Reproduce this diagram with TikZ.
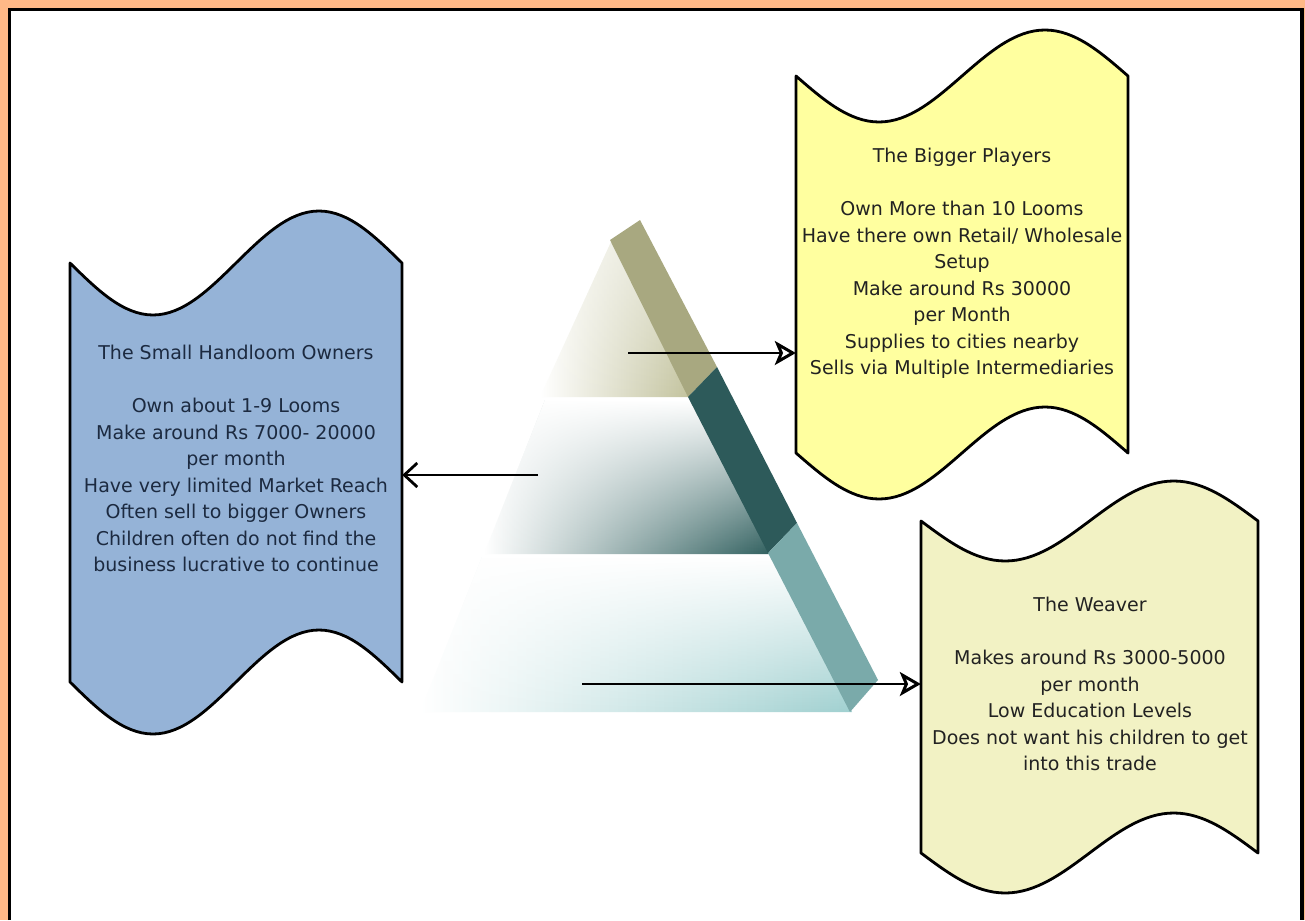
\documentclass[tikz,border=0pt]{standalone}
\usepackage{fontspec}
\setmainfont{DejaVu Sans}
\usetikzlibrary{arrows.meta,fadings}
\definecolor{orangebg}{HTML}{FFB987}
\definecolor{bluebox}{HTML}{95B3D7}
\definecolor{yellowbox}{HTML}{FFFF9F}
\definecolor{weaverbox}{HTML}{F2F2C4}
\definecolor{olive}{HTML}{A8A880}
\definecolor{tealdark}{HTML}{2D5A5A}
\definecolor{teallight}{HTML}{7AAAAA}
\definecolor{tierone}{HTML}{C2C29C}
\definecolor{tiertwo}{HTML}{31605F}
\definecolor{tierthree}{HTML}{A0D0D0}
\definecolor{txt}{HTML}{222222}
\definecolor{bluetxt}{HTML}{1C2A40}
\newcommand\wavyshape[6]{%
  \filldraw[fill=#6, draw=black, line width=2.8pt, line join=round]
   (#1,#2) sin ({#1+#3/4},{#2+#5}) cos ({#1+#3/2},#2) sin ({#1+3*#3/4},{#2-#5}) cos ({#1+#3},#2)
   -- ({#1+#3},{#2+#4}) sin ({#1+3*#3/4},{#2+#4-#5}) cos ({#1+#3/2},{#2+#4}) sin ({#1+#3/4},{#2+#4+#5}) cos (#1,{#2+#4}) -- cycle;}
\tikzset{
  boxnode/.style={draw=none, inner sep=0pt, rectangle},
  boxtext/.style={align=center, font=\fontsize{19}{26.5}\selectfont, inner sep=0pt, anchor=north, text=txt},
  arrR/.style={line width=2.8pt, -{Stealth[open, length=21pt, width=24pt, inset=5pt, line width=3pt]}},
  arrL/.style={line width=2.8pt, -{Straight Barb[length=13pt, width=24pt, line width=2.8pt]}},
}
\begin{document}
\begin{tikzpicture}[x=1pt, y=-1pt]
\useasboundingbox (0,0) rectangle (1305,920);
% frame
\fill[orangebg] (0,0) rectangle (1305,920);
\fill[white] (9.5,9.5) rectangle (1302,920);
\draw[line width=3.5pt] (9.5,920) -- (9.5,9.5) -- (1302,9.5) -- (1302,920);

% pyramid tiers
\shade[left color=white, right color=tierone] (612,240) -- (692,397) -- (540,397) -- cycle;
\fill[white, path fading=south, fill opacity=0.5] (612,240) -- (692,397) -- (540,397) -- cycle;
\shade[left color=white, right color=tiertwo] (545,400) -- (692,400) -- (771,554) -- (484,554) -- cycle;
\fill[white, path fading=south] (545,400) -- (692,400) -- (771,554) -- (484,554) -- cycle;
\shade[left color=white, right color=tierthree] (482,557) -- (772,557) -- (852,712) -- (420,712) -- cycle;
\fill[white, path fading=south] (482,557) -- (772,557) -- (852,712) -- (420,712) -- cycle;

% diagonal band
\fill[olive] (610,240) -- (640,220) -- (717,367) -- (688,397) -- cycle;
\fill[tealdark] (688,397) -- (717,367) -- (797,523) -- (768,553) -- cycle;
\fill[teallight] (768,553) -- (797,523) -- (878,680) -- (850,712) -- cycle;

% shapes
\wavyshape{70}{263}{332}{419}{52}{bluebox}
\wavyshape{796}{76}{332}{377}{46}{yellowbox}
\wavyshape{921}{521}{337}{332}{40}{weaverbox}

\node[boxnode, minimum width=332pt, minimum height=419pt] (small) at (236,472.5) {};
\node[boxnode, minimum width=332pt, minimum height=377pt] (big) at (962,264.5) {};
\node[boxnode, minimum width=337pt, minimum height=332pt] (weaver) at (1089.5,687) {};

\node[boxtext, text=bluetxt] (smallT) at (236,345) {The Small Handloom Owners\\[26.5pt]
Own about 1-9 Looms\\ Make around Rs 7000- 20000\\ per month\\ Have very limited Market Reach\\
Often sell to bigger Owners\\ Children often do not find the\\ business lucrative to continue};
\node[boxtext] (bigT) at (962,148) {The Bigger Players\\[26.5pt]
Own More than 10 Looms\\ Have there own Retail/ Wholesale\\ Setup\\ Make around Rs 30000\\
per Month\\ Supplies to cities nearby\\ Sells via Multiple Intermediaries};
\node[boxtext] (weaverT) at (1090,597) {The Weaver\\[26.5pt]
Makes around Rs 3000-5000\\ per month\\ Low Education Levels\\
Does not want his children to get\\ into this trade};

% arrows
\coordinate (s1) at (628,353);
\coordinate (s2) at (538,475);
\coordinate (s3) at (582,684);
\draw[arrR] (s1) -- (s1 -| big.west);
\draw[arrL] (s2) -- (s2 -| small.east);
\draw[arrR] (s3) -- (s3 -| weaver.west);
\end{tikzpicture}
\end{document}
